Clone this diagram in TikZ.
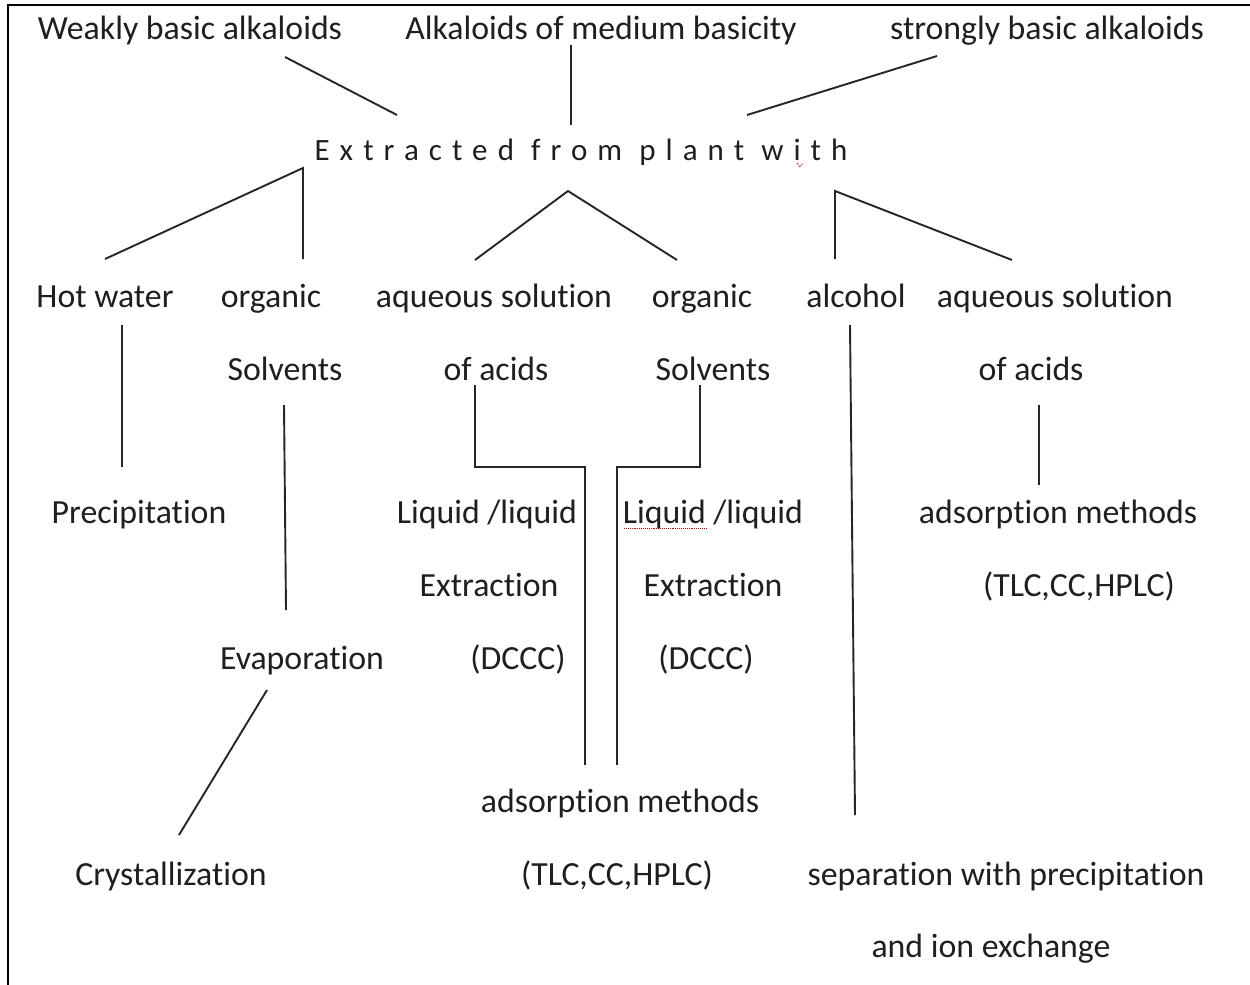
\documentclass[tikz,border=0pt]{standalone}
\usepackage{fontspec}
\setmainfont{Carlito}[Ligatures=NoCommon,Contextuals=NoAlternate]
\usetikzlibrary{calc}
\begin{document}
\begin{tikzpicture}[x=1pt,y=-1pt,
  lbl/.style={anchor=base,inner sep=0pt,text=black!88,font=\fontsize{33.8}{40}\selectfont},
  wide/.style={anchor=base,inner sep=0pt,text=black!88,font=\fontsize{31}{38}\selectfont\addfontfeature{LetterSpace=32.5}},
  link/.style={draw=black!85,line width=1.9pt},
  frame/.style={draw=black,line width=2.2pt},
  spell/.style={draw=red!75!black,line width=0.9pt,densely dotted}]
\useasboundingbox (0,0) rectangle (1250,985);
\fill[white] (0,0) rectangle (1250,985);
% page frame (top and left edges)
\draw[frame] (1250,5) -- (8,5) -- (8,985);

% top row: kinds of alkaloids
\node[lbl] (weak) at (190,39) {Weakly basic alkaloids};
\node[lbl] (med) at (601,39) {Alkaloids of medium basicity};
\node[lbl] (strong) at (1047,39) {strongly basic alkaloids};
\node[wide] (ext) at (581,160) {Extracted from plant with};

% solvents
\node[lbl] (hot) at (105,307) {Hot water};
\node[lbl] (org1) at (271,307) {organic};
\node[lbl] (aq1) at (494,307) {aqueous solution};
\node[lbl] (org2) at (702,307) {organic};
\node[lbl] (alc) at (856,307) {alcohol};
\node[lbl] (aq2) at (1055,307) {aqueous solution};
\node[lbl] (solv1) at (285,380) {Solvents};
\node[lbl] (acid1) at (496,380) {of acids};
\node[lbl] (solv2) at (713,380) {Solvents};
\node[lbl] (acid2) at (1031,380) {of acids};

% methods
\node[lbl] (prec) at (139,523) {Precipitation};
\node[lbl] (ll1) at (487,523) {Liquid /liquid};
\node[lbl] (ll2) at (713,523) {Liquid /liquid};
\node[lbl] (ads1) at (1058,523) {adsorption methods};
\node[lbl] (ex1) at (489,596) {Extraction};
\node[lbl] (ex2) at (713,596) {Extraction};
\node[lbl] (tlc1) at (1079,596) {(TLC,CC,HPLC)};
\node[lbl] (evap) at (302,669) {Evaporation};
\node[lbl] (dc1) at (518,669) {(DCCC)};
\node[lbl] (dc2) at (706,669) {(DCCC)};
\node[lbl] (ads2) at (620,812) {adsorption methods};
\node[lbl] (cryst) at (171,885) {Crystallization};
\node[lbl] (tlc2) at (617,885) {(TLC,CC,HPLC)};
\node[lbl] (sep) at (1006,885) {separation with precipitation};
\node[lbl] (ion) at (991,957) {and ion exchange};

% spelling marks
\draw[spell] (624,528) -- (706,528);
\draw[spell] (797,163) -- (800,167) -- (803,163);

% branch points and line ends
\coordinate (w1) at (285,57);   \coordinate (w2) at (397,115);
\coordinate (m1) at (571,45);   \coordinate (m2) at (571,125);
\coordinate (s1) at (937,56);   \coordinate (s2) at (747,115);
\coordinate (la) at (303,168);  \coordinate (lh) at (105,259);  \coordinate (lo) at (303,259);
\coordinate (ma) at (568,191);  \coordinate (mq) at (475,260);  \coordinate (mo) at (677,260);
\coordinate (ra) at (835,191);  \coordinate (rl) at (835,259);  \coordinate (rq) at (1012,260);

\draw[link] (w1) -- (w2);
\draw[link] (m1) -- (m2);
\draw[link] (s1) -- (s2);
\draw[link] (lh) -- (la) -- (lo);
\draw[link] (mq) -- (ma) -- (mo);
\draw[link] (rl) -- (ra) -- (rq);

% downward links
\draw[link] (122,325) -- (122,467);
\draw[link] (284,405) -- (286,610);
\draw[link] (267,690) -- (179,835);
\draw[link] (475,385) |- (585,467) -- (585,765);
\draw[link] (700,385) |- (617,467) -- (617,765);
\draw[link] (850,325) -- (855,815);
\draw[link] (1039,405) -- (1039,485);
\end{tikzpicture}
\end{document}
